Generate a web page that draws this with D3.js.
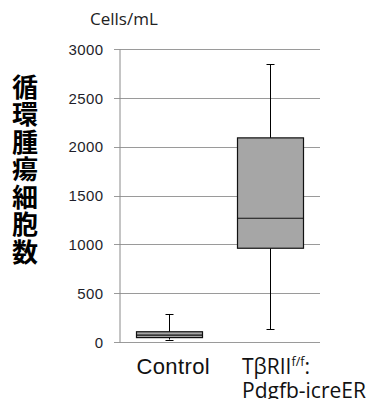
<!DOCTYPE html>
<html><head><meta charset="utf-8">
<script src="https://cdn.jsdelivr.net/npm/d3@7"></script>
<style>body{margin:0;background:#fff}svg{display:block}</style>
</head><body>
<script>
const categories = ["Control", "TβRII"];
const whiskerLow = [25, 130];
const q1 = [45, 960];
const median = [70, 1267];
const q3 = [105, 2090];
const whiskerHigh = [287, 2845];
const yTicks = [0, 500, 1000, 1500, 2000, 2500, 3000];
const yTitle = "循環腫瘍細胞数";
const unitLabel = "Cells/mL";

const W = 366, H = 399;
const svg = d3.select("body").append("svg").attr("width", W).attr("height", H);

const y = d3.scaleLinear().domain([0, 3000]).range([342, 49]);
const x = d3.scaleBand().domain(categories).range([119, 320]).paddingInner(0.34).paddingOuter(0.17);

// gridlines
svg.append("g").selectAll("line").data(yTicks).join("line")
  .attr("x1", 114).attr("x2", 320)
  .attr("y1", d => Math.round(y(d)) + 0.5).attr("y2", d => Math.round(y(d)) + 0.5)
  .attr("stroke", "#9a9a9a").attr("stroke-width", 1);

// y axis
const yAxis = d3.axisLeft(y).tickValues(yTicks).tickSize(0).tickPadding(16).tickFormat(d3.format("d"));
const gy = svg.append("g").attr("transform", "translate(119.5,0)").call(yAxis);
gy.select(".domain").attr("stroke", "#8a8a8a");
gy.selectAll("text").attr("font-family", "Liberation Sans, Arial, sans-serif")
  .attr("font-size", 15).attr("letter-spacing", 0.4).attr("fill", "#1e1e2a").attr("dy", "0.35em");

// unit label
svg.append("text").attr("x", 90).attr("y", 25).text(unitLabel)
  .attr("font-family", "Open Sans, sans-serif").attr("font-size", 17).attr("fill", "#222");

// boxes
const g = svg.append("g");
categories.forEach((c, i) => {
  const cx = Math.round(x(c) + x.bandwidth() / 2) + 0.5;
  const x0 = Math.round(x(c)) + 0.5, bw = Math.round(x.bandwidth());
  g.append("line").attr("x1", cx).attr("x2", cx).attr("y1", y(whiskerHigh[i])).attr("y2", y(whiskerLow[i])).attr("stroke", "#000");
  [whiskerHigh[i], whiskerLow[i]].forEach(v => {
    g.append("line").attr("x1", cx - 4).attr("x2", cx + 4).attr("y1", Math.round(y(v)) + 0.5).attr("y2", Math.round(y(v)) + 0.5).attr("stroke", "#000");
  });
  g.append("rect").attr("x", x0).attr("width", bw)
    .attr("y", y(q3[i])).attr("height", y(q1[i]) - y(q3[i]))
    .attr("fill", "#a6a6a6").attr("stroke", "#111").attr("stroke-width", 1.2);
  g.append("line").attr("x1", x0).attr("x2", x0 + bw).attr("y1", y(median[i])).attr("y2", y(median[i])).attr("stroke", "#111").attr("stroke-width", 1.2);
});

// category labels
const c0 = x(categories[0]) + x.bandwidth() / 2;
svg.append("text").attr("x", c0 + 4).attr("y", 374).attr("text-anchor", "middle")
  .attr("font-family", "Liberation Sans, Arial, sans-serif").attr("font-size", 22).attr("letter-spacing", 0.4).attr("fill", "#111").text(categories[0]);
const t = svg.append("text").attr("x", 242).attr("y", 374)
  .attr("font-family", "Open Sans, sans-serif").attr("font-size", 21).attr("fill", "#111");
t.append("tspan").text(categories[1]);
t.append("tspan").attr("font-size", 12.5).attr("dy", -8).text("f/f");
t.append("tspan").attr("dy", 8).text(":");
t.append("tspan").attr("x", 242).attr("dy", 24).text("Pdgfb-icreER");

// vertical title
svg.append("text").attr("x", 25).attr("y", 74)
  .attr("writing-mode", "vertical-rl").attr("letter-spacing", 1.5)
  .attr("font-family", "Noto Sans CJK JP, sans-serif").attr("font-weight", "bold")
  .attr("font-size", 26).attr("fill", "#000").text(yTitle);
</script>
</body></html>
